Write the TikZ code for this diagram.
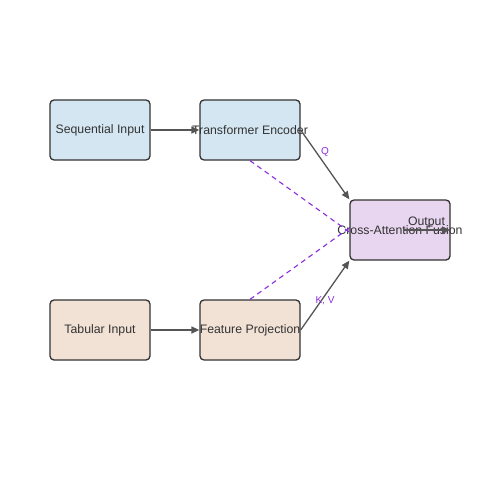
\documentclass[tikz,border=0pt]{standalone}
\usepackage{fontspec}
\setmainfont{Liberation Sans}
\usetikzlibrary{arrows.meta}
\definecolor{bluefill}{HTML}{D4E6F1}
\definecolor{tanfill}{HTML}{F2E2D6}
\definecolor{purfill}{HTML}{E8D5F0}
\definecolor{edgec}{HTML}{333333}
\definecolor{linec}{HTML}{555555}
\definecolor{dashc}{HTML}{8A2BE2}
\newcommand{\ovl}[1]{\raisebox{-1.5pt}{\makebox[0pt][c]{#1}}}
\tikzset{
  box/.style={draw=edgec, line width=1.3pt, rounded corners=4pt, minimum width=100pt, minimum height=60pt, inner sep=0pt, text=edgec, font=\fontsize{12.3}{14}\selectfont},
  conn/.style={draw=linec, line width=1.3pt, -{Triangle[length=8pt,width=7pt]}},
  attn/.style={draw=dashc, line width=1.1pt, dash pattern=on 5pt off 4pt},
  lbl/.style={text=dashc, font=\fontsize{10}{12}\selectfont, inner sep=0pt},
}
\begin{document}
\begin{tikzpicture}[x=1pt,y=-1pt]
\useasboundingbox (0,0) rectangle (500,500);
\node[box, fill=bluefill] (seq) at (100,130) {\ovl{Sequential Input}};
\node[box, fill=bluefill] (enc) at (250,130) {\ovl{Transformer Encoder}};
\node[box, fill=purfill] (fus) at (400,230) {\ovl{Cross-Attention Fusion}};
\node[box, fill=tanfill] (tab) at (100,330) {\ovl{Tabular Input}};
\node[box, fill=tanfill] (proj) at (250,330) {\ovl{Feature Projection}};
\coordinate (outs) at (403,230);
\coordinate (oute) at (450,230);
\draw[conn] (seq.east) -- (enc.west);
\draw[conn] (tab.east) -- (proj.west);
\draw[conn] (enc.east) -- (fus.north west);
\draw[conn] (proj.east) -- (fus.south west);
\draw[attn] (enc.south) -- ([yshift=-2pt]fus.west);
\draw[attn] (proj.north) -- ([yshift=2pt]fus.west);
\draw[conn] (outs) -- node[above=1pt, text=edgec, font=\fontsize{12.3}{14}\selectfont, inner sep=0pt] (outl) {Output} (oute);
\node[lbl] (q) at (325,152) {Q};
\node[lbl] (kv) at (325,301) {K, V};
\end{tikzpicture}
\end{document}
